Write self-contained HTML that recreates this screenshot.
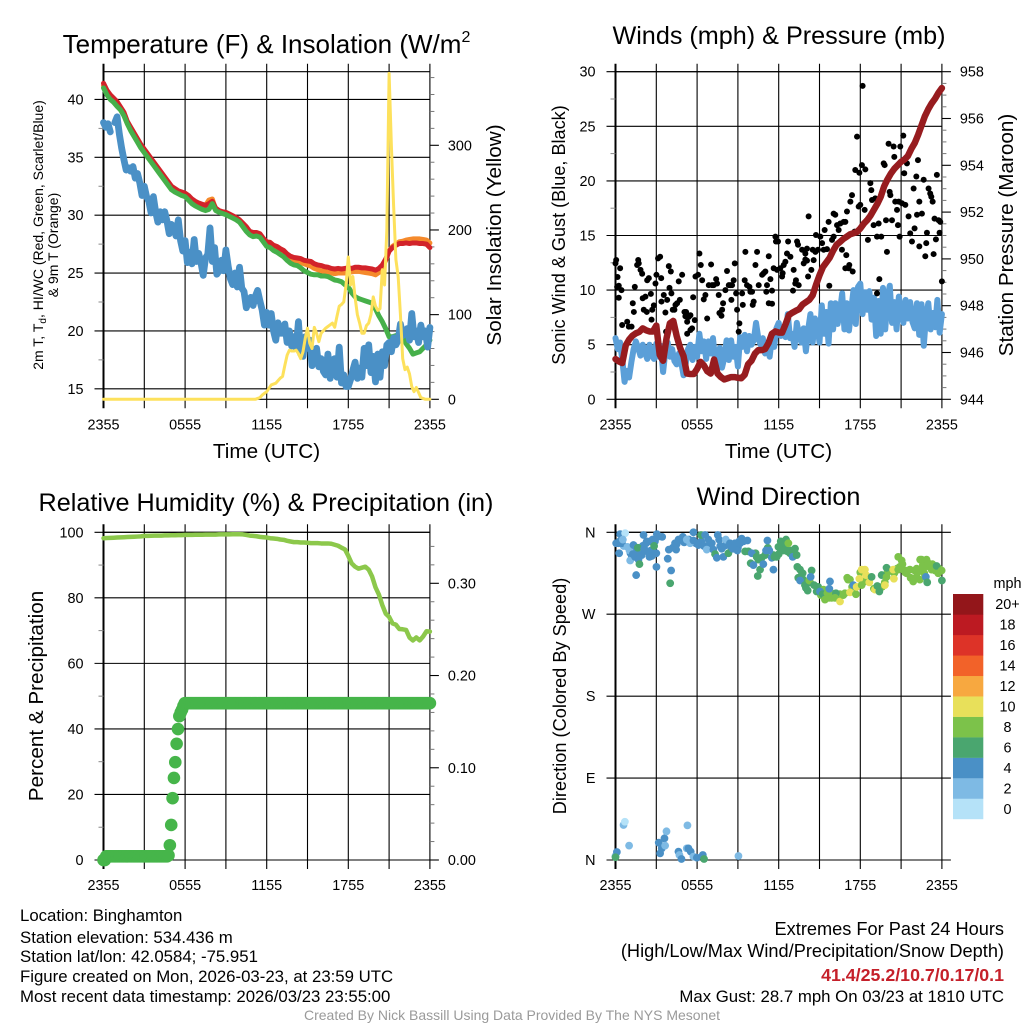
<!DOCTYPE html>
<html lang="en">
<head>
<meta charset="utf-8">
<title>NYS Mesonet Station Meteogram</title>
<style>
html,body{margin:0;padding:0;background:#fff;width:1024px;height:1024px;overflow:hidden}
svg{display:block}
text{font-family:"Liberation Sans",sans-serif;fill:#000}
.title{font-size:25.2px;text-anchor:middle}
.axis{font-size:20.7px;text-anchor:middle}
.foot{font-size:16.8px}
.foot-wide{font-size:18.2px}
</style>
</head>
<body>
<svg id="chart" width="1024" height="1024" viewBox="0 0 1024 1024" xmlns="http://www.w3.org/2000/svg">
<rect width="1024" height="1024" fill="#fff"/>
<g id="layer"></g>

<text class="title" x="266.5" y="53" style="font-size:26px">Temperature (F) &amp; Insolation (W/m<tspan font-size="16" dy="-11">2</tspan></text>
<text class="title" x="779" y="44">Winds (mph) &amp; Pressure (mb)</text>
<text class="title" x="266" y="511">Relative Humidity (%) &amp; Precipitation (in)</text>
<text class="title" x="778.5" y="505">Wind Direction</text>

<text class="axis" x="266.5" y="458">Time (UTC)</text>
<text class="axis" x="778.5" y="458">Time (UTC)</text>

<text font-size="14" text-anchor="middle" transform="translate(43 235) rotate(-90)">2m T, T<tspan font-size="10" dy="3">d</tspan><tspan dy="-3">, HI/WC (Red, Green, Scarlet/Blue)</tspan></text>
<text font-size="14" text-anchor="middle" transform="translate(58 245) rotate(-90)">&amp; 9m T (Orange)</text>
<text class="axis" transform="translate(501 235) rotate(-90)">Solar Insolation (Yellow)</text>
<text class="axis" style="font-size:18.1px" transform="translate(565 235) rotate(-90)">Sonic Wind &amp; Gust (Blue, Black)</text>
<text class="axis" transform="translate(1013 235) rotate(-90)">Station Pressure (Maroon)</text>
<text class="axis" transform="translate(43 696) rotate(-90)">Percent &amp; Precipitation</text>
<text class="axis" style="font-size:18.2px" transform="translate(566 696) rotate(-90)">Direction (Colored By Speed)</text>

<text class="foot" x="20" y="921">Location: Binghamton</text>
<text class="foot" x="20" y="943">Station elevation: 534.436 m</text>
<text class="foot" x="20" y="962">Station lat/lon: 42.0584; -75.951</text>
<text class="foot" x="20" y="982">Figure created on Mon, 2026-03-23, at 23:59 UTC</text>
<text class="foot" x="20" y="1002">Most recent data timestamp: 2026/03/23 23:55:00</text>
<text class="foot-wide" x="1004" y="935" text-anchor="end">Extremes For Past 24 Hours</text>
<text class="foot-wide" x="1004" y="957" text-anchor="end">(High/Low/Max Wind/Precipitation/Snow Depth)</text>
<text x="1004" y="981" text-anchor="end" font-size="17.8" font-weight="bold" style="fill:#c5202a">41.4/25.2/10.7/0.17/0.1</text>
<text class="foot" x="1004" y="1002" text-anchor="end">Max Gust: 28.7 mph On 03/23 at 1810 UTC</text>
<text x="512" y="1020" text-anchor="middle" font-size="14" style="fill:#9a9a9a">Created By Nick Bassill Using Data Provided By The NYS Mesonet</text>
</svg>

<script>
// ---- Time axis ----
const timeTickHours = [0, 3, 6, 9, 12, 15, 18, 21, 24];
const timeTickLabels = ['2355', '', '0555', '', '1155', '', '1755', '', '2355'];

// ---- Temperature panel ticks ----
const tempTicks = [15, 20, 25, 30, 35, 40];
const tempMinorTicks = [17.5, 22.5, 27.5, 32.5, 37.5];
const solarTicks = [0, 100, 200, 300];
const solarMinorTicks = [20, 40, 60, 80, 120, 140, 160, 180, 220, 240, 260, 280, 320, 340, 360, 380];

// ---- Temperature panel series (15 minute samples) ----
const airTemp = [41.4,40.8,40.4,40.1,39.8,39.35,38.9,38.1,37.6,37.1,36.6,36.1,35.7,35.3,34.9,34.5,34.1,33.7,33.3,32.9,32.5,32.3,32.1,32.0,31.9,31.7,31.4,31.2,31.05,30.95,30.85,31.0,31.2,30.6,30.4,30.3,30.25,30.1,29.95,29.8,29.6,29.3,29,28.6,28.5,28.5,28.4,28,27.7,27.65,27.4,27.3,27.1,26.95,26.65,26.45,26.35,26.3,26.25,26.1,26.05,26,25.8,25.7,25.65,25.55,25.5,25.4,25.35,25.4,25.35,25.4,25.45,25.4,25.5,25.5,25.45,25.45,25.4,25.35,25.25,25.4,25.7,26.2,26.9,27.2,27.4,27.55,27.55,27.6,27.55,27.6,27.6,27.55,27.55,27.5,27.2];
const temp9m = [41.2,40.6,40.2,40,39.7,39.2,38.8,38,37.5,37,36.5,36,35.6,35.2,34.8,34.4,34,33.6,33.2,32.8,32.4,32.2,32,31.9,31.8,31.6,31.3,31.1,30.95,30.85,30.85,31.3,31.4,30.5,30.3,30.2,30.15,30,29.85,29.7,29.45,29.15,28.85,28.5,28.4,28.4,28.3,27.9,27.6,27.5,27.3,27.15,26.95,26.75,26.4,26.2,26.05,25.95,25.9,25.8,25.7,25.6,25.4,25.3,25.2,25.15,25.05,25,24.95,25,25,25,25.1,25.1,25.15,25.15,25.1,25.05,25,24.95,24.85,25.05,25.5,26.1,26.9,27.3,27.5,27.7,27.75,27.85,27.9,27.95,27.95,27.95,27.9,27.85,27.6];
const windChill = [41,40.4,40,39.75,39.4,39.1,38.6,37.9,37.3,36.8,36.3,35.8,35.4,35,34.6,34.2,33.8,33.4,33,32.6,32.2,32,31.85,31.7,31.6,31.3,31,30.8,30.65,30.5,30.4,30.5,31,30.4,30.25,30.15,30.05,29.9,29.75,29.6,29.4,29,28.6,28.3,28.15,28.2,28.1,27.7,27.3,27.2,26.95,26.8,26.6,26.4,26.1,25.85,25.7,25.65,25.45,25.2,25.05,24.9,24.85,24.85,24.75,24.75,24.7,24.55,24.4,24.35,24.25,24,23.8,23.3,22.95,22.8,22.7,22.6,22.5,22.4,21.9,21.3,20.8,20.2,19.5,19.5,19.6,19.7,19.6,18.9,18.5,18,18.1,18.2,18.5,18.8,19.2];
const dewPoint = [38.0,37.6,37.9,37.2,null,38.0,38.5,37.0,35.8,34.8,33.9,34.1,33.8,34.2,33.2,33.6,32.8,31.7,32.5,31.6,31.2,30.2,31.6,30.3,29.4,30.3,29.6,30.3,29.5,28.4,29.2,29.0,28.2,29.6,27.8,26.9,27.8,25.9,26.8,25.8,27.9,26.0,26.7,25.9,24.8,26.3,26.6,28.9,26.0,27.2,24.9,25.2,26.1,25.2,27.0,25.6,24.5,24.0,25.0,23.8,25.5,23.7,23.4,22.0,22.6,22.9,22.2,23.0,23.5,22.6,21.8,20.5,21.6,20.5,21.5,20.0,19.2,20.7,19.8,19.8,20.6,19.0,20.0,18.7,19.5,18.5,20.8,18.0,17.8,19.5,18.5,19.2,17.0,17.7,18.5,16.9,17.6,16.5,16.2,18.0,15.9,17.5,17.6,16.0,18.6,15.5,16.2,15.2,15.2,15.8,16.6,17.3,15.9,16.8,16.0,18.5,17.0,18.8,16.4,17.8,15.6,18.0,16.0,18.2,17.0,18.8,19.0,18.2,19.4,18.8,19.2,20.6,19.6,19.9,20.2,19.2,21.5,19.5,20.0,19.0,20.5,19.5,20.0,18.6,20.3];
const insolation = [0,0,0,0,0,0,0,0,0,0,0,0,0,0,0,0,0,0,0,0,0,0,0,0,0,0,0,0,0,0,0,0,0,0,0,0,0,0,0,0,0,0,0,0,0,0,0,0,0,0,0,0,0,0,0,0,0,0,0,0,0,0,0,0,0,0,0,0,1,2,5,7,9,13,17,18,19,22,25,27,40,52,58,57,57,58,54,48,56,72,84,66,60,85,78,68,78,81,84,86,88,90,85,98,110,112,115,135,168,135,145,120,100,90,78,78,87,90,100,121,110,105,107,153,135,200,385,300,228,165,145,100,48,35,38,30,15,9,14,8,2,1,0,0,0];

// ---- Winds panel ticks ----
const windTicks = [0, 5, 10, 15, 20, 25, 30];
const windMinorTicks = [2.5, 7.5, 12.5, 17.5, 22.5, 27.5];
const pressureTicks = [944, 946, 948, 950, 952, 954, 956, 958];
const pressureMinorTicks = [944.5,945,945.5,946.5,947,947.5,948.5,949,949.5,950.5,951,951.5,952.5,953,953.5,954.5,955,955.5,956.5,957,957.5];

// ---- Winds panel series ----
const windSpeed = [5.6,4.6,5.2,3.6,1.6,2.6,2.0,3.4,4.6,5.3,4.7,4.0,5.0,4.3,3.7,5.0,4.0,3.7,5.1,3.9,4.9,2.5,4.4,5.2,3.9,4.6,3.5,3.2,4.2,3.4,2.2,3.3,4.6,5.0,3.6,4.8,3.9,6.0,4.4,5.3,3.7,5.3,4.2,5.6,3.5,3.0,4.7,2.9,3.8,5.4,3.6,5.4,3.9,4.8,3.0,5.7,4.8,5.9,4.4,5.8,5.0,5.4,7.0,5.6,5.0,5.6,4.2,5.2,3.9,5.6,4.8,6.5,7.0,5.8,6.5,5.7,7.8,5.6,6.0,4.8,7.0,5.9,5.2,6.5,4.4,6.4,7.8,5.2,7.4,6.9,5.2,8.6,6.0,8.0,5.1,8.8,6.4,8.8,6.9,8.0,9.7,6.4,8.8,6.3,8.2,10.0,6.9,10.3,10.6,7.8,9.8,8.2,9.9,7.3,9.3,5.8,9.0,6.0,10.2,6.4,9.3,10.4,7.0,8.9,6.4,9.4,8.0,7.0,9.1,7.4,8.9,7.1,6.5,8.8,5.9,8.7,4.9,7.6,8.8,6.4,7.9,6.6,9.1,6.1,7.8];
const pressure = [945.72,945.62,945.55,946.3,946.55,946.72,946.82,946.88,947.03,946.95,946.9,946.9,947.15,945.9,945.65,946.6,947.25,947.35,946.7,946.2,945.85,945.1,945.08,945.08,945.3,945.6,945.45,945.2,945.1,945.7,945.1,944.95,944.85,944.9,944.95,944.95,944.92,944.9,945.05,945.5,945.65,945.95,946.1,946.1,946.15,946.4,946.8,946.9,946.85,946.85,947.2,947.6,947.7,947.78,947.85,948.05,948.15,948.25,948.45,948.9,949.3,949.65,949.85,950.05,950.35,950.6,950.72,950.85,950.95,951.05,951.1,951.15,951.3,951.5,951.65,951.85,952.1,952.35,952.65,953.1,953.4,953.65,953.85,954.0,954.15,954.25,954.4,954.7,954.95,955.3,955.7,956.1,956.4,956.65,956.85,957.1,957.3];
const gustHours = [0,.05,.15,.34,.24,.12,.24,.44,.49,.86,.98,1.18,1.27,1.35,1.42,1.59,1.67,1.71,1.84,1.96,2,2.08,2.2,2.3,2.33,2.45,2.6,2.65,2.7,2.82,2.94,3.01,3.13,3.28,3.36,3.38,3.55,3.67,3.8,3.72,3.92,4.07,3.97,4.11,4.21,4.41,4.33,4.53,4.65,4.73,4.9,5.07,5.14,5.27,5.19,5.39,5.51,5.27,5.51,5.63,5.83,5.71,5.88,6.07,6.17,6.27,6.37,6.49,6.61,6.74,6.86,7.03,7.1,7.22,7.4,7.47,7.59,7.64,7.79,7.84,7.91,8.08,8.2,8.33,8.45,8.57,8.52,8.69,8.77,8.87,8.94,9.06,9.11,9.31,9.36,9.55,9.5,9.67,9.85,9.92,10.04,10.09,10.16,10.29,10.41,10.53,10.78,10.9,11.02,11.14,11.27,11.09,11.27,11.39,11.51,11.51,11.63,11.76,11.8,11.95,11.88,12.12,12.25,12.37,12.29,12.49,12.61,12.69,12.86,13.05,13.1,13.27,13.22,13.47,13.35,13.42,13.72,13.84,13.96,13.96,14.08,14.08,14.16,14.2,14.4,14.5,14.57,14.7,14.74,14.89,15.06,15.31,15.19,15.38,15.55,15.67,15.72,15.92,16.04,16.04,16.16,16.29,16.41,16.53,16.65,16.78,16.9,16.97,17.02,17.14,16.9,17.19,17.27,17.39,17.44,17.58,17.63,17.76,17.88,17.93,18,18.12,18.17,18.32,18.37,18.49,18.56,18.74,18.81,18.86,18.98,19.1,19.23,19.23,19.35,19.4,19.54,19.72,19.79,19.96,19.89,20.08,20.16,20.21,20.33,20.45,20.5,20.57,20.7,20.77,20.89,20.82,20.94,21.06,21.16,21.23,21.31,21.43,21.55,21.67,21.8,21.92,21.99,22.12,22.17,22.24,22.34,22.53,22.34,22.66,22.78,22.85,22.9,23.02,23.14,23.22,23.32,23.39,23.46,23.56,23.63,23.76,23.88,23.83,24];
const gustValues = [12.45,12.76,11.2,12,10.4,10.3,9.3,10,6.8,7.1,6.65,6.65,8.8,8,10.3,12.3,12.76,12.45,11.85,11.5,9.25,8.2,9.4,8,10.9,11.1,9.65,7.3,8.2,8.6,10.6,11.4,12.9,13.05,11.1,8.95,9.55,7.95,9.1,6.2,12.2,11.7,10.2,9.7,8.2,8.65,8.2,8.8,10.8,9.1,11.4,8,7.6,7.1,8,7.55,7.7,6,6.35,6.5,7.25,9.35,11.25,11.4,13.35,12.3,10.9,9.15,9.55,7.4,10.45,12.35,10.45,10.45,11,10.6,9.55,7.9,7.65,8.2,8.8,10,11.75,10.45,10.45,10.45,9.1,10.9,12.45,9.7,8.2,6.2,6.95,9.7,8.65,13.5,10.9,10.45,10.3,9.85,9.85,8.65,8.95,12.3,13.5,10.45,11.4,11.55,11.7,10.45,13.1,9.85,8.8,11,9.95,8.75,12,14.9,14.45,14.45,11.85,12,11.25,12.3,11.55,12.6,13.35,14.45,13.05,9.95,11.85,10.9,10.6,10.45,14.45,14.15,13.7,12.45,13.35,12.8,13.8,12.7,11.25,16.75,11.85,13.7,12.75,13.5,15.05,13.7,14.9,13.7,14.3,15.5,13.75,16.25,10.4,14.6,14.9,17,16.9,15.95,15.5,16.1,13.7,16.25,16.25,13.2,17.2,12,12,12.3,18.1,18.7,11.7,15.35,21,24.05,17.65,20.75,17.8,21.45,28.7,17.35,21.05,16.4,14.6,19.8,19.15,18.25,15.95,18.4,14.9,9.7,16.1,11,14.9,21.6,21.45,13.5,16.4,23.4,19,18.7,16.4,23.15,22.2,18.1,17.35,15.95,14.9,18.1,23.15,17.95,24.15,20.7,17.8,21.6,16.75,15.2,14.45,19.3,15.65,20.4,16.9,21.9,18.1,17,14,20.1,13.1,14.3,15.25,19.3,18.85,18.55,18.1,13.3,16.55,14.65,20.55,16.4,16.25,15.25,10.8];

// ---- Humidity panel ticks ----
const rhTicks = [0, 20, 40, 60, 80, 100];
const rhMinorTicks = [10, 30, 50, 70, 90];
const precipTicks = [0, 0.1, 0.2, 0.3];
const precipTickLabels = ['0.00', '0.10', '0.20', '0.30'];
const precipMinorTicks = [.02,.04,.06,.08,.12,.14,.16,.18,.22,.24,.26,.28,.32,.34];

// ---- Humidity panel series ----
const relHumidity = [98.2,98.25,98.3,98.35,98.4,98.45,98.5,98.55,98.6,98.65,98.7,98.75,98.9,98.9,98.95,99,99,99,99.05,99.05,99.1,99.1,99.15,99.15,99.2,99.2,99.2,99.25,99.25,99.25,99.3,99.3,99.3,99.3,99.35,99.35,99.35,99.35,99.4,99.4,99.4,99.35,99.2,99,98.9,98.8,98.6,98.5,98.4,98.2,98.1,98,97.8,97.7,97.4,97.2,97,97,96.9,96.9,96.8,96.7,96.7,96.7,96.6,96.6,96.6,96.5,96.2,95.9,95.3,94.8,92.8,90.5,89.5,88.9,89.2,89.5,88.6,86.5,83.2,81,77.8,75.2,74.2,72.2,71.8,70.5,70.4,70.2,67.9,67,67.9,67,68.2,69.8,69.7];
const precipitation = [0,0,.004,.004,.004,.004,.004,.004,.004,.004,.004,.004,.004,.004,.004,.004,.004,.004,.004,.004,.004,.004,.004,.004,.004,.004,.004,.004,.004,.004,.004,.004,.004,.004,.004,.004,.004,.004,.004,.004,.004,.004,.004,.004,.004,.004,.004,.004,.005,.016,.038,.067,.089,.106,.126,.142,.156,.16,.163,.167,
.17,.17,.17,.17,.17,.17,.17,.17,.17,.17,.17,.17,.17,.17,.17,.17,.17,.17,.17,.17,.17,.17,.17,.17,.17,.17,.17,.17,.17,.17,.17,.17,.17,.17,.17,.17,.17,.17,.17,.17,.17,.17,.17,.17,.17,.17,.17,.17,.17,.17,.17,.17,.17,.17,.17,.17,.17,.17,.17,.17,.17,.17,.17,.17,.17,.17,.17,.17,.17,.17,.17,.17,.17,.17,.17,.17,.17,.17,.17,.17,.17,.17,.17,.17,.17,.17,.17,.17,.17,.17,.17,.17,.17,.17,.17,.17,.17,.17,.17,.17,.17,.17,.17,.17,.17,.17,.17,.17,.17,.17,.17,.17,.17,.17,.17,.17,.17,.17,.17,.17,.17,.17,.17,.17,.17,.17,.17,.17,.17,.17,.17,.17,.17,.17,.17,.17,.17,.17,.17,.17,.17,.17,.17,.17,.17,.17,.17,.17,.17,.17,.17,.17,.17,.17,.17,.17,.17,.17,.17,.17,.17,.17,.17,.17,.17,.17,.17,.17,.17,.17,.17,.17,.17,.17,.17,.17,.17,.17,.17,.17,.17,.17];

// ---- Wind direction panel ----
const directionTicks = [0, 90, 180, 270, 360];
const directionTickLabels = ['N', 'E', 'S', 'W', 'N'];
const directionHours = [.3,.6,1.1,1.2,1.5,1.8,2,2.3,2.6,2.9,3,4.5,4.8,5.1,5.4,5.9,6.3,6.5,6.9,7.1,7.7,8,8.2,8.5,8.7,8.9,9,9.1,9.4,
10.3,10.5,11,11.2,11.6,12,12.3,12.5,12.7,12.9,13.1,13.65,13.8,14,14.3,14.9,
15.1,15.3,15.5,15.7,15.9,16,16.3,16.5,
17.1,17.4,17.6,18,18.3,18.7,19,19.2,19.6,19.8,20,20.2,20.5,20.7,20.9,21.1,21.3,21.5,21.7,22,22.2,22.4,22.6,22.7,23.1,23.3,23.5,23.8,
.05,.22,.34,.47,.27,.71,.54,.88,1.08,1.03,1.32,1.27,1.52,1.44,1.64,1.69,1.76,2.06,1.93,2.11,2.25,2.35,2.5,2.55,2.72,2.84,2.67,3.01,3.04,3.09,3.43,3.84,3.92,4.02,4.09,4.21,4.38,4.46,4.63,4.95,5.05,5.24,5.49,5.73,5.73,6.1,6.29,6.59,6.71,6.83,7.08,7.2,7.32,7.45,7.52,7.62,7.81,7.93,8.11,8.3,8.42,8.62,8.79,8.96,9.16,9.28,9.53,9.7,9.77,10.02,9.94,10.14,10.38,10.46,10.63,10.75,10.87,11.07,11.17,11.31,11.49,11.61,11.68,11.85,11.98,12.15,12.34,12.54,12.71,12.64,12.83,13.03,13.2,13.32,13.37,13.57,13.76,13.44,13.57,13.93,14.13,14.25,14.42,14.35,14.6,14.79,15.04,15.23,15.4,15.58,15.77,15.72,15.89,16.21,16.14,16.51,16.75,16.87,17.04,17.24,17.24,17.49,17.68,17.73,17.93,18.1,18.34,18.42,18.1,18.66,18.83,19.08,19.25,19.4,19.57,19.81,19.93,19.93,20.42,20.47,20.79,21.04,20.79,21.16,21.4,21.65,21.89,22.14,22.14,22.51,22.38,22.63,22.87,22.82,22.92,23,23.24,23.61,23.73,23.98,24,
0,.1,0,.59,.69,1,3.18,3.28,3.4,3.6,3.75,3.65,4.63,4.7,4.85,5.24,5.36,5.53,5.29,5.73,5.98,6.42,6.51,9.04];
const directionDegrees = [350,345,337,332,340,336,345,350,340,350,337,347,352,352,352,348,350,345,346,342,345,345,347,343,342,347,343,350,350,
337,330,335,343,335,336,345,342,339,340,335,312,308,299,305,300,
291,297,289,288,293,289,290,292,
308,300,300,316,306,310,298,298,300,305,316,318,315,320,322,325,316,318,310,318,316,330,324,315,322,325,318,320,
348,348,358,348,337,359,352,344,329,340,346,336,313,333,343,330,325,357,335,342,348,339,333,350,352,345,334,322,358,355,355,331,341,304,318,343,348,341,352,355,349,352,348,360,351,346,357,357,341,352,348,341,336,332,357,352,342,333,352,337,348,342,348,340,348,353,339,351,339,337,326,324,333,312,319,332,325,340,351,340,332,319,333,333,344,350,340,352,348,339,337,333,342,335,322,319,315,310,307,302,296,307,318,311,302,295,295,292,286,293,306,298,288,293,288,284,291,293,310,308,294,302,292,300,309,319,319,313,302,305,311,297,301,295,313,302,321,311,319,309,333,329,319,319,315,319,306,320,311,330,308,320,330,311,305,326,319,323,315,318,307,
4.4,8.8,3,38.5,42,15.8,19,7.3,12.8,23.8,31.5,15.8,9.2,5.5,1.1,12.8,12.8,9.2,38,3.7,2.6,5.5,1.1,4.4];
const directionSpeeds = [5,3,5,5,5,5,5,5,5,5,5,5,5,5,5,5,5,5,5,5,5,5,5,5,5,5,5,5,5,
7,7,7,7,7,7,7,7,7,7,7,7,7,7,7,7,
9,9,9,9,9,9,9,9,
9,9,9,9,9,9,9,9,9,9,9,9,9,9,9,9,9,9,9,9,9,9,9,9,9,9,9,9,
5,5,5,5,5,1,3,3,3,3,5,5,5,5,7,5,7,5,5,5,5,5,5,5,5,7,5,5,5,5,5,5,5,7,5,5,5,5,5,5,5,3,3,5,5,5,7,5,3,5,5,5,7,5,5,5,5,5,3,7,5,5,5,5,5,5,7,5,7,5,7,5,7,7,7,7,5,5,5,5,5,5,7,7,7,7,7,7,8,7,7,5,7,7,7,7,7,7,5,7,7,9,7,5,7,7,5,7,9,9,5,5,9,7,9,10.5,9,9,9,9,10.5,5,9,10.5,10.5,10.5,10.5,10.5,9,10.5,7,10.5,7,7,7,10.5,7,9,10.5,10.5,9,9,9,9,9,9,9,9,9,9,9,9,9,5,7,9,9,7,9,9,7,
3,5,7,3,1,3,5,5,5,5,3,3,5,3,5,3,5,5,3,3,5,5,7,3];

// ---- Speed legend ----
const speedLabels = ['0', '2', '4', '6', '8', '10', '12', '14', '16', '18', '20+'];
const speedColors = ['#b5e2f8', '#7ebae4', '#4a90c6', '#4aa66f', '#7cc24a', '#e8e05a', '#f7a840', '#f26229', '#dd3328', '#bc1a22', '#93161a'];

const NS = 'http://www.w3.org/2000/svg';
const layer = document.getElementById('layer');

function lin(d0, r0, d1, r1) {
  return function (v) { return r0 + (v - d0) * (r1 - r0) / (d1 - d0); };
}

function mk(tag, name, attrs, parent) {
  const el = document.createElementNS(NS, tag);
  
  
  for (const k in attrs) el.setAttribute(k, attrs[k]);
  (parent || layer).appendChild(el);
  return el;
}

function seg(name, x1, y1, x2, y2, w, parent, color) {
  return mk('line', name, { x1: x1, y1: y1, x2: x2, y2: y2, stroke: color || '#000', 'stroke-width': w || 1.1 }, parent);
}

function label(name, x, y, str, anchor, parent) {
  const t = mk('text', name, { x: x, y: y, 'font-size': 14.4, 'text-anchor': anchor }, parent);
  t.textContent = str;
  return t;
}

function drawSeries(name, values, xs, ys, color, width, parent) {
  let d = '';
  let pen = false;
  const last = values.length - 1;
  values.forEach(function (v, i) {
    if (v === null) { pen = false; return; }
    d += (pen ? 'L' : 'M') + xs(i / last * 24).toFixed(2) + ' ' + ys(v).toFixed(2);
    pen = true;
  });
  mk('path', name, { d: d, fill: 'none', stroke: color, 'stroke-width': width, 'stroke-linejoin': 'round', 'stroke-linecap': 'round' }, parent);
}

function frame(cfg) {
  const g = mk('g', cfg.id + '-axes', {});
  const xs = cfg.xs;
  const top = cfg.top, bot = cfg.bot;
  const L = xs(0), R = xs(24);
  timeTickHours.forEach(function (h, i) {
    seg(cfg.id + '-vertical-gridline', xs(h), top - 8, xs(h), bot + 9, i === 0 ? 2 : 1.1, g);
    if (timeTickLabels[i]) label(cfg.id + '-x-tick-label', xs(h), bot + 30, timeTickLabels[i], 'middle', g);
  });
  cfg.leftTicks.forEach(function (v, i) {
    const y = cfg.yl(v);
    seg(cfg.id + '-horizontal-gridline', L - 9, y, R + (cfg.wide ? 9 : 0), y, 1.1, g);
    label(cfg.id + '-y-tick-label', L - 20, y + 5, cfg.leftLabels ? cfg.leftLabels[i] : String(v), 'end', g);
  });
  (cfg.leftMinor || []).forEach(function (v) {
    seg(cfg.id + '-left-minor-tick', L - 5, cfg.yl(v), L, cfg.yl(v), 1, g, '#888');
  });
  seg(cfg.id + '-top-border', L, top, R, top, 1.1, g);
  seg(cfg.id + '-bottom-border', L, bot, R, bot, 1.1, g);
  (cfg.rightTicks || []).forEach(function (v, i) {
    const y = cfg.yr(v);
    seg(cfg.id + '-right-tick', R, y, R + 9, y, 1.1, g);
    label(cfg.id + '-right-tick-label', R + 18, y + 5, cfg.rightLabels ? cfg.rightLabels[i] : String(v), 'start', g);
  });
  (cfg.rightMinor || []).forEach(function (v) {
    seg(cfg.id + '-right-minor-tick', R, cfg.yr(v), R + 4.5, cfg.yr(v), 1, g, '#777');
  });
  return { xs: xs };
}

// Panel 1: temperature and insolation
const xLeft = lin(0, 103.5, 24, 429.9);
const xRight = lin(0, 615.5, 24, 941.9);
const yTemp = lin(15, 388.8, 40, 99.45);
const ySolar = lin(0, 399.3, 300, 145.3);
frame({ id: 'temperature', xs: xLeft, top: 71.7, bot: 399.3, yl: yTemp, yr: ySolar, leftTicks: tempTicks, leftMinor: tempMinorTicks, rightTicks: solarTicks, rightMinor: solarMinorTicks });
const g1 = mk('g', 'temperature-series', {});
drawSeries('temperature-9m-line', temp9m, xLeft, yTemp, '#f58a2c', 5, g1);
drawSeries('temperature-2m-line', airTemp, xLeft, yTemp, '#d2232a', 5, g1);
drawSeries('wind-chill-line', windChill, xLeft, yTemp, '#46b04a', 5, g1);
drawSeries('dew-point-line', dewPoint, xLeft, yTemp, '#4a90c6', 6.8, g1);
drawSeries('solar-insolation-line', insolation, xLeft, ySolar, '#fde15c', 3, g1);

// Panel 2: winds and pressure
const yWind = lin(0, 399.3, 30, 71.7);
const yPress = lin(944, 399.3, 958, 71.7);
frame({ id: 'winds', xs: xRight, top: 71.7, bot: 399.3, yl: yWind, yr: yPress, leftTicks: windTicks, leftMinor: windMinorTicks, rightTicks: pressureTicks, rightMinor: pressureMinorTicks });
const g2 = mk('g', 'winds-series', {});
drawSeries('sonic-wind-line', windSpeed, xRight, yWind, '#5b9fd8', 6, g2);
gustValues.forEach(function (v, i) {
  const dot = document.createElementNS(NS, 'circle');
  
  
  dot.setAttribute('cx', xRight(gustHours[i]));
  dot.setAttribute('cy', yWind(v));
  dot.setAttribute('r', 3);
  dot.setAttribute('fill', '#000');
  g2.appendChild(dot);
});
drawSeries('pressure-line', pressure, xRight, yPress, '#971c1f', 6.5, g2);

// Panel 3: humidity and precipitation
const yRh = lin(0, 860, 100, 532.3);
const yPrecip = lin(0, 860, 0.3, 583.3);
frame({ id: 'humidity', xs: xLeft, top: 532.3, bot: 860, yl: yRh, yr: yPrecip, leftTicks: rhTicks, leftMinor: rhMinorTicks, rightTicks: precipTicks, rightLabels: precipTickLabels, rightMinor: precipMinorTicks });
const g3 = mk('g', 'humidity-series', {});
drawSeries('relative-humidity-line', relHumidity, xLeft, yRh, '#8cc84b', 4.5, g3);
precipitation.forEach(function (v, i) {
  const dot = document.createElementNS(NS, 'circle');
  
  
  dot.setAttribute('cx', xLeft(i / (precipitation.length - 1) * 24));
  dot.setAttribute('cy', yPrecip(v));
  dot.setAttribute('r', 6.3);
  dot.setAttribute('fill', '#46b54a');
  g3.appendChild(dot);
});

// Panel 4: wind direction coloured by speed
const yDir = lin(0, 860, 360, 532.3);
frame({ id: 'direction', xs: xRight, top: 532.3, bot: 860, yl: yDir, leftTicks: directionTicks, leftLabels: directionTickLabels, wide: true });
const g4 = mk('g', 'direction-series', {});
function speedColor(s) {
  return speedColors[Math.min(speedColors.length - 1, Math.floor(s / 2))];
}
directionDegrees.forEach(function (v, i) {
  const dot = document.createElementNS(NS, 'circle');
  
  
  dot.setAttribute('cx', xRight(directionHours[i]));
  dot.setAttribute('cy', yDir(v));
  dot.setAttribute('r', 3.9);
  dot.setAttribute('fill', speedColor(directionSpeeds[i]));
  g4.appendChild(dot);
});

// Legend
const legend = mk('g', 'speed-legend', {});
const legendTop = 594, legendBottom = 819, legendStep = (legendBottom - legendTop) / speedLabels.length;
label('speed-legend-title', 1007.5, 588, 'mph', 'middle', legend);
speedLabels.forEach(function (lab, i) {
  const y = legendBottom - (i + 1) * legendStep;
  mk('rect', 'speed-legend-swatch', { x: 953, y: y, width: 30.3, height: legendStep + 0.2, fill: speedColors[i] }, legend);
  label('speed-legend-label', 1007.5, y + legendStep / 2 + 5, lab, 'middle', legend);
});
</script>
</body>
</html>
